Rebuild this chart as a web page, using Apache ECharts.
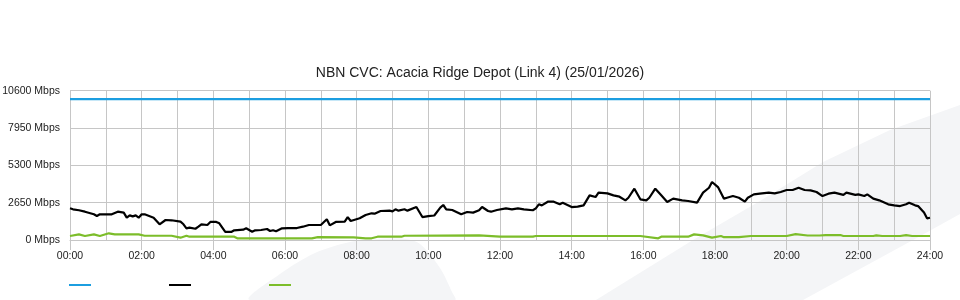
<!DOCTYPE html>
<html>
<head>
<meta charset="utf-8">
<script src="https://cdn.jsdelivr.net/npm/echarts@6/dist/echarts.min.js"></script>
<style>
html,body{margin:0;padding:0;background:#fff;}
#chart{width:960px;height:300px;}
</style>
</head>
<body>
<div id="chart"></div>
<script>
// ---- data (minutes since 00:00, Mbps) ----
const chartTitle = 'NBN CVC: Acacia Ridge Depot (Link 4) (25/01/2026)';
const yTicks = [0, 2650, 5300, 7950, 10600];
const xTickLabels = ['00:00','02:00','04:00','06:00','08:00','10:00','12:00','14:00','16:00','18:00','20:00','22:00','24:00'];

const capacityMinutes = [0, 1440];
const capacityMbps = [10000, 10000];

const downMinutes = [0,5,15,25,40,45,50,70,80,90,95,100,105,110,115,120,125,140,150,160,170,185,190,195,
  200,210,215,220,230,235,245,250,260,270,275,290,295,305,310,320,330,335,340,345,355,365,380,390,400,
  405,420,430,435,445,460,465,470,485,495,505,510,520,535,540,545,550,560,565,580,590,600,610,
  620,625,630,640,655,665,675,685,690,700,705,715,730,740,750,760,775,780,785,790,800,810,820,
  825,840,850,860,870,880,885,900,910,920,930,935,945,955,965,970,980,990,1000,1010,1025,
  1035,1050,1060,1070,1075,1085,1095,1100,1110,1120,1130,1135,1145,1155,1170,1180,1190,1200,1210,1220,1230,
  1240,1250,1260,1270,1280,1295,1300,1315,1320,1330,1335,1345,1355,1370,1380,1390,1400,1405,1415,1420,1430,1435,1440];
const downMbps = [2250,2180,2110,2010,1825,1700,1825,1825,2010,1940,1585,1750,1680,1750,1585,1825,1825,1585,1115,1420,1400,1300,1115,830,
  875,800,945,1115,1065,1280,1280,1185,570,570,690,735,830,590,690,710,780,640,690,620,830,850,850,945,1065,
  1065,1065,1470,1040,1280,1300,1630,1350,1540,1775,1895,1870,2060,2085,2035,2180,2085,2180,2085,2340,1630,1700,1740,
  2295,2485,2180,2130,1825,1990,1945,2110,2340,2060,2010,2130,2250,2180,2250,2180,2110,2250,2535,2460,2720,2720,2535,
  2650,2340,2365,2460,3170,3050,3360,3310,3170,3075,2815,3000,3640,2890,2815,3000,3640,3170,2700,2935,2815,
  2770,2650,3360,3710,4120,3760,2935,3000,3120,3000,2720,3000,3240,3290,3360,3310,3410,3550,3550,3710,3550,
  3525,3410,3120,3290,3360,3200,3360,3200,3240,3120,3240,2935,2815,2535,2460,2410,2535,2650,2460,2410,1945,1540,1580];

const upMinutes = [0,15,25,40,50,65,75,115,125,170,185,195,200,275,280,405,415,475,495,505,515,555,560,685,720,775,780,
  955,985,990,1035,1045,1060,1075,1090,1095,1120,1140,1200,1215,1235,1255,1265,1290,1295,1345,1350,1360,1390,1400,1410,1440];
const upMbps = [285,400,285,400,285,475,400,400,300,300,165,300,235,235,120,120,200,180,120,120,235,235,300,330,235,235,285,
  285,120,235,235,400,330,165,285,200,200,285,285,420,320,320,350,350,285,285,330,285,285,350,285,285];

const pairs = (xs, ys) => xs.map((x, i) => [x, ys[i]]);

const chart = echarts.init(document.getElementById('chart'), null, {renderer: 'canvas'});
const gridColor = '#c6c6c6';
const font = 'Liberation Sans, Arial, sans-serif';

chart.setOption({
  animation: false,
  backgroundColor: '#ffffff',
  title: {
    text: chartTitle,
    left: 'center',
    top: 61,
    textStyle: {fontFamily: font, fontSize: 14, fontWeight: 'normal', color: '#222'}
  },
  graphic: [
    {
      type: 'polygon', z: -10, silent: true,
      shape: {smooth: 0.3, points: [[250,300],[280,274],[315,253],[350,242],[380,239],[405,239],[420,244],[440,268],[452,292],[455,300]]},
      style: {fill: '#f4f5f7'}
    },
    {
      type: 'polygon', z: -10, silent: true,
      shape: {points: [[596,300],[693,240],[760,201],[823,162],[890,130],[960,105],[960,214],[913,240],[803,300]]},
      style: {fill: '#f4f5f7'}
    }
  ],
  legend: {
    left: 69,
    top: 284,
    padding: 0,
    icon: 'rect',
    itemWidth: 22,
    itemHeight: 2,
    itemGap: 78,
    formatter: () => '',
    textStyle: {fontSize: 1},
    data: ['Capacity', 'Inbound', 'Outbound']
  },
  grid: {left: 70, right: 30, top: 90.7, bottom: 60, containLabel: false, outerBoundsMode: 'none'},
  xAxis: {
    type: 'value',
    min: 0, max: 1440, interval: 120,
    axisLine: {show: true, lineStyle: {color: gridColor, width: 1}},
    axisTick: {show: true, length: 10, lineStyle: {color: gridColor}},
    minorTick: {show: false, splitNumber: 2},
    splitLine: {show: true, lineStyle: {color: gridColor, width: 1}},
    minorSplitLine: {show: true, lineStyle: {color: gridColor, width: 1}},
    axisLabel: {
      margin: 11, fontFamily: font, fontSize: 10.5, color: '#222',
      formatter: (v) => xTickLabels[Math.round(v / 120)] || ''
    }
  },
  yAxis: {
    type: 'value',
    min: yTicks[0], max: yTicks[yTicks.length - 1], interval: yTicks[1] - yTicks[0],
    axisLine: {show: false},
    axisTick: {show: false},
    splitLine: {show: true, lineStyle: {color: gridColor, width: 1}},
    axisLabel: {margin: 10, fontFamily: font, fontSize: 10.5, color: '#222', padding: [0, 0, 4, 0],
      formatter: (v) => String(v) + ' Mbps'}
  },
  series: [
    {
      name: 'Capacity', type: 'line', data: pairs(capacityMinutes, capacityMbps),
      showSymbol: false, lineStyle: {color: '#1c9ee0', width: 2.2}, itemStyle: {color: '#1c9ee0'}, z: 3
    },
    {
      name: 'Inbound', type: 'line', data: pairs(downMinutes, downMbps),
      showSymbol: false, lineStyle: {color: '#000000', width: 2.2}, itemStyle: {color: '#000000'}, z: 4
    },
    {
      name: 'Outbound', type: 'line', data: pairs(upMinutes, upMbps),
      showSymbol: false, lineStyle: {color: '#7cbd2a', width: 2.2}, itemStyle: {color: '#7cbd2a'}, z: 3
    }
  ]
});
</script>
</body>
</html>
